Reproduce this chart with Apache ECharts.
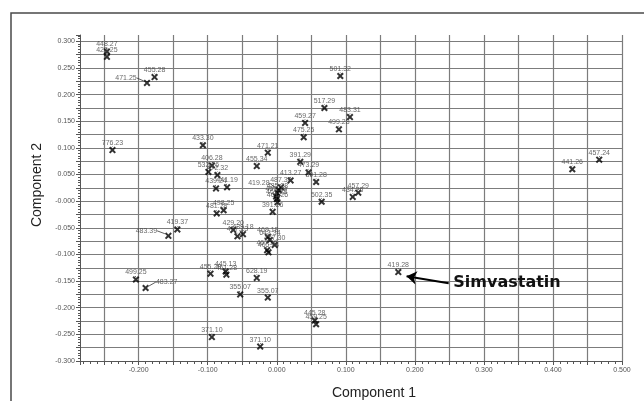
<!DOCTYPE html>
<html>
<head>
<meta charset="utf-8">
<script src="https://cdn.jsdelivr.net/npm/echarts@6/dist/echarts.min.js"></script>
<style>
html, body { margin: 0; padding: 0; background: #fff; }
#chart { width: 644px; height: 401px; }
</style>
</head>
<body>
<div id="chart"></div>
<script>
// ion names (m/z_rt) and their scores on the two components
const ionLabels = [
  '448.27', '428.25', '471.25', '455.28', '776.23', '433.30', '406.28', '532.26', '472.32', '439.24',
  '441.19', '471.21', '455.34', '459.27', '475.25', '501.32', '517.29', '483.31', '499.28', '391.29',
  '473.29', '413.27', '391.28', '457.29', '434.26', '502.35', '457.24', '441.26', '419.28', '419.28',
  '487.30', '435.28', '467.39', '467.28', '461.26', '391.26', '481.28', '498.25', '429.20', '417.23',
  '439.18', '469.18', '643.34', '457.30', '467.25', '465.24', '445.13', '461.28', '455.28', '628.19',
  '355.07', '355.07', '445.28', '459.25', '371.10', '371.10', '419.37', '483.39', '499.25', '483.27'
];
const component1 = [
  -0.246, -0.246, -0.188, -0.177, -0.238, -0.107, -0.094, -0.099, -0.086, -0.088,
  -0.072, -0.013, -0.029, 0.041, 0.039, 0.092, 0.069, 0.106, 0.090, 0.034,
  0.046, 0.020, 0.057, 0.118, 0.110, 0.065, 0.467, 0.428, 0.176, 0.003,
  0.006, 0.001, -0.001, 0.000, 0.001, -0.006, -0.087, -0.077, -0.063, -0.057,
  -0.049, -0.013, -0.010, -0.003, -0.014, -0.012, -0.074, -0.073, -0.096, -0.029,
  -0.053, -0.013, 0.055, 0.057, -0.094, -0.024, -0.144, -0.157, -0.204, -0.190
];
const component2 = [
  0.281, 0.271, 0.222, 0.233, 0.096, 0.105, 0.067, 0.055, 0.049, 0.024,
  0.026, 0.091, 0.066, 0.147, 0.120, 0.235, 0.175, 0.158, 0.135, 0.074,
  0.054, 0.039, 0.036, 0.016, 0.008, -0.001, 0.078, 0.060, -0.133, 0.021,
  0.026, 0.015, 0.009, 0.004, -0.002, -0.020, -0.023, -0.017, -0.054, -0.066,
  -0.062, -0.067, -0.073, -0.082, -0.092, -0.096, -0.132, -0.138, -0.136, -0.144,
  -0.175, -0.181, -0.224, -0.231, -0.255, -0.273, -0.053, -0.065, -0.147, -0.163
];
const xTickLabels = ['-0.200', '-0.100', '0.000', '0.100', '0.200', '0.300', '0.400', '0.500'];
const yTickLabels = ['-0.300', '-0.250', '-0.200', '-0.150', '-0.100', '-0.050', '-0.000',
  '0.050', '0.100', '0.150', '0.200', '0.250', '0.300'];

// labels that sit away from their marker (dx, dy in px)
const labelShift = { 2: [-21, 2], 29: [-20, 0], 57: [-22, 2], 59: [21, 1] };

const chart = echarts.init(document.getElementById('chart'));

function tickFormatter(labels) {
  return function (v) {
    const hit = labels.find(l => Math.abs(parseFloat(l) - v) < 1e-6);
    return hit === undefined ? '' : hit;
  };
}

const points = component1.map((x, i) => [x, component2[i], ionLabels[i]]);
const crossSymbol = 'path://M0,2L2,0L5,3L8,0L10,2L7,5L10,8L8,10L5,7L2,10L0,8L3,5Z';
const gridColor = '#7c7c7c';

const option = {
  animation: false,
  backgroundColor: '#fff',
  graphic: [{
    type: 'rect',
    shape: { x: 11, y: 13, width: 700, height: 500 },
    style: { fill: 'none', stroke: '#4a4a4a', lineWidth: 1.5 },
    z: -1
  }],
  grid: { left: 80, right: 22, top: 35, bottom: 40, outerBoundsMode: 'none', containLabel: false },
  xAxis: {
    type: 'value',
    min: -0.285,
    max: 0.5,
    minInterval: 0.05,
    maxInterval: 0.05,
    splitNumber: 16,
    name: 'Component 1',
    nameLocation: 'middle',
    nameGap: 25,
    nameTextStyle: { fontFamily: 'Liberation Sans', fontSize: 14, color: '#222', padding: [0, 0, 0, 46] },
    axisLine: { onZero: false, lineStyle: { color: '#555', width: 1 } },
    axisTick: { show: true, length: 4, lineStyle: { color: '#555' } },
    minorTick: { show: true, splitNumber: 5, length: 3, lineStyle: { color: '#555' } },
    axisLabel: {
      formatter: tickFormatter(xTickLabels),
      fontFamily: 'Liberation Sans', fontSize: 7, color: '#555', margin: 6,
      showMinLabel: true, showMaxLabel: true, hideOverlap: false
    },
    splitLine: { show: true, showMinLine: false, showMaxLine: true, lineStyle: { color: gridColor, width: 1.2 } }
  },
  yAxis: {
    type: 'value',
    min: -0.3,
    max: 0.312,
    minInterval: 0.025,
    maxInterval: 0.025,
    splitNumber: 24,
    name: 'Component 2',
    nameLocation: 'middle',
    nameGap: 36,
    nameTextStyle: { fontFamily: 'Liberation Sans', fontSize: 14, color: '#222', padding: [0, 0, 0, 26] },
    axisLine: { onZero: false, lineStyle: { color: '#555', width: 1 } },
    axisTick: { show: true, length: 4, lineStyle: { color: '#555' } },
    minorTick: { show: true, splitNumber: 5, length: 2, lineStyle: { color: '#555' } },
    axisLabel: {
      formatter: tickFormatter(yTickLabels),
      fontFamily: 'Liberation Sans', fontSize: 7, color: '#555', margin: 5,
      showMinLabel: true, showMaxLabel: true, hideOverlap: false
    },
    splitLine: { show: true, showMinLine: false, showMaxLine: false, lineStyle: { color: gridColor, width: 1.2 } }
  },
  series: [{
    type: 'scatter',
    data: points,
    symbol: crossSymbol,
    symbolSize: 7,
    itemStyle: { color: '#000' },
    label: {
      show: true,
      position: 'top',
      distance: 0,
      formatter: p => p.data[2],
      fontFamily: 'Liberation Sans',
      fontSize: 7,
      color: '#444'
    },
    labelLine: { show: true, lineStyle: { color: '#333', width: 0.8 } },
    labelLayout: function (params) {
      const s = labelShift[params.dataIndex];
      return s ? { dx: s[0], dy: s[1] } : {};
    },
    markLine: {
      silent: true,
      symbol: ['none', 'arrow'],
      symbolSize: 10,
      lineStyle: { color: '#000', width: 2, type: 'solid' },
      label: { show: false },
      data: [[{ coord: [0.249, -0.154] }, { coord: [0.188, -0.141] }]]
    },
    markPoint: {
      silent: true,
      symbol: 'circle',
      symbolSize: 1,
      itemStyle: { color: 'rgba(0,0,0,0)' },
      data: [{
        coord: [0.255, -0.154],
        label: {
          show: true, position: 'right', distance: 0, formatter: 'Simvastatin',
          fontFamily: 'DejaVu Sans', fontWeight: 'bold', fontSize: 16, color: '#111'
        }
      }]
    }
  }]
};

chart.setOption(option);
</script>
</body>
</html>
